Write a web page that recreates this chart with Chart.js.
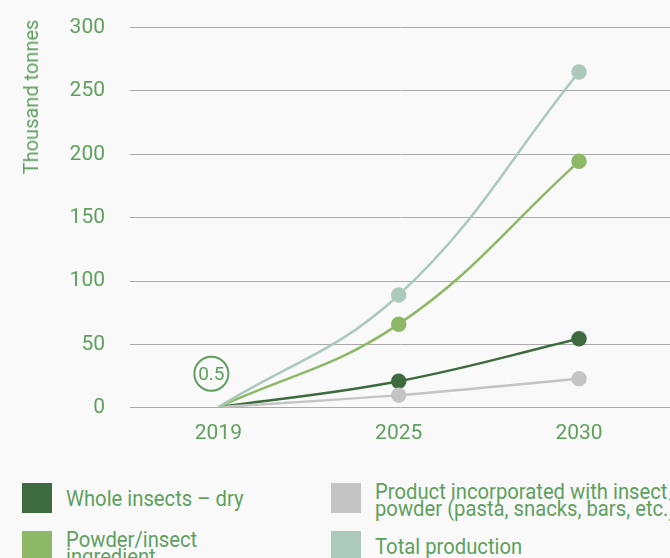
<!DOCTYPE html>
<html>
<head>
<meta charset="utf-8">
<script src="https://cdn.jsdelivr.net/npm/chart.js@4"></script>
<style>
  body { margin: 0; background: #f9f9f9; width: 670px; height: 558px; overflow: hidden; position: relative; font-family: Roboto, sans-serif; }
  #chart { position: absolute; left: 0; top: -10px; }
  #ytitle { position: absolute; left: 31px; top: 97px; transform: translate(-50%, -50%) rotate(-90deg); color: #5fa05f; font-size: 20px; white-space: nowrap; }
  .lg { position: absolute; display: flex; align-items: flex-start; }
  .sw { width: 30px; height: 30px; flex: none; }
  .tx { color: #5fa05f; font-size: 22px; line-height: 17px; transform-origin: left top; transform: scaleX(0.92); white-space: nowrap; margin-left: 14px; }
</style>
</head>
<body>
<canvas id="chart" width="680" height="466"></canvas>
<div id="ytitle">Thousand tonnes</div>
<div id="legend"></div>
<script>
const years = ["2019", "2025", "2030"];
const wholeDry = [0.5, 21, 54.5];
const powder = [0.5, 66, 194.5];
const product = [0.5, 10, 23];
const total = [0.5, 89, 265];
const startLabel = "0.5";

const green = "#5fa05f";
const colors = {
  whole: "#3d6a3e",
  powder: "#8db865",
  product: "#c4c4c4",
  total: "#abcabb",
};

const series = [
  { label: "Total production", data: total, color: colors.total },
  { label: "Powder/insect ingredient", data: powder, color: colors.powder },
  { label: "Product incorporated with insect powder (pasta, snacks, bars, etc.)", data: product, color: colors.product },
  { label: "Whole insects – dry", data: wholeDry, color: colors.whole },
];

// the circled start value at 2019
const startBadge = {
  id: "startBadge",
  afterDatasetsDraw(chart) {
    const { ctx, scales } = chart;
    const x = scales.x.getPixelForValue(0) - 7;
    const y = scales.y.getPixelForValue(0) - 34;
    ctx.save();
    ctx.beginPath();
    ctx.arc(x, y, 17, 0, Math.PI * 2);
    ctx.strokeStyle = green;
    ctx.lineWidth = 2;
    ctx.stroke();
    ctx.fillStyle = green;
    ctx.font = "19px Roboto";
    ctx.textAlign = "center";
    ctx.textBaseline = "middle";
    ctx.fillText(startLabel, x, y + 1);
    ctx.restore();
  },
};

new Chart(document.getElementById("chart"), {
  type: "line",
  data: {
    datasets: series.map((s) => ({
      label: s.label,
      data: s.data.map((v, i) => ({ x: i, y: v })),
      borderColor: s.color,
      backgroundColor: s.color,
      borderWidth: 2.5,
      tension: 0.4,
      pointRadius: s.data.map((v, i) => (i === 0 ? 0 : 6.5)),
      pointHoverRadius: 6.5,
    })),
  },
  options: {
    responsive: false,
    animation: false,
    layout: { padding: { top: 8, bottom: 5, left: 0, right: 0 } },
    plugins: { legend: { display: false }, tooltip: { enabled: false } },
    scales: {
      x: {
        type: "linear",
        min: -0.49,
        max: 2.51,
        afterBuildTicks: (axis) => {
          axis.ticks = years.map((y, i) => ({ value: i }));
        },
        ticks: {
          callback: (v) => years[v],
          color: green,
          font: { family: "Roboto", size: 21 },
          padding: 5,
          maxRotation: 0,
        },
        grid: { display: false },
        border: { display: false },
      },
      y: {
        min: 0,
        max: 300,
        ticks: {
          stepSize: 50,
          color: green,
          font: { family: "Roboto", size: 21 },
          padding: 25,
        },
        afterFit: (axis) => { axis.width = 130; },
        grid: { color: "#aaaaaa", lineWidth: 1, drawTicks: false },
        border: { display: false },
      },
    },
  },
  plugins: [startBadge],
});

// legend below the chart
const legendItems = [
  { text: "Whole insects – dry", color: colors.whole, left: 22, top: 483, pad: 7 },
  { text: "Powder/insect<br>ingredient", color: colors.powder, left: 22, top: 531, pad: 0 },
  { text: "Product incorporated with insect<br>powder (pasta, snacks, bars, etc.)", color: colors.product, left: 331, top: 483, pad: 0 },
  { text: "Total production", color: colors.total, left: 331, top: 531, pad: 7 },
];
const legend = document.getElementById("legend");
legendItems.forEach((it) => {
  const el = document.createElement("div");
  el.className = "lg";
  el.style.left = it.left + "px";
  el.style.top = it.top + "px";
  el.innerHTML = `<div class="sw" style="background:${it.color}"></div><div class="tx" style="margin-top:${it.pad}px">${it.text}</div>`;
  legend.appendChild(el);
});
</script>
</body>
</html>
